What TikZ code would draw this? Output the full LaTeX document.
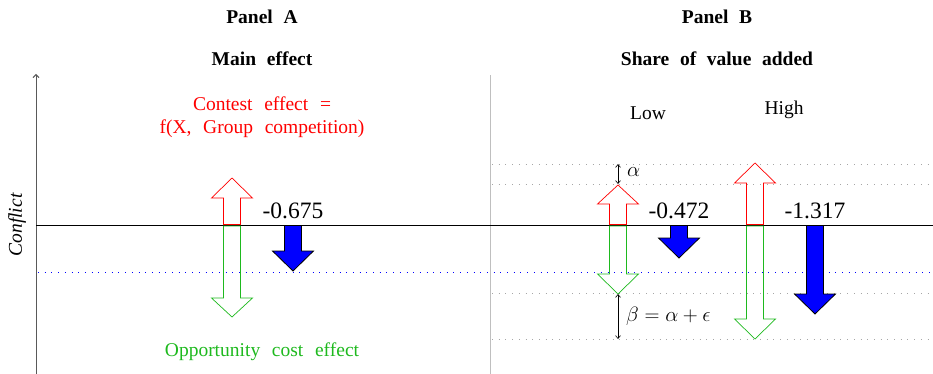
\documentclass[tikz,border=0pt]{standalone}
\usepackage{fontspec}
\setmainfont{Liberation Serif}
\usetikzlibrary{arrows.meta}
\definecolor{gr}{RGB}{30,185,30}
\definecolor{bl}{RGB}{0,0,255}
\newcommand{\wsp}{\spaceskip=0.6em plus 0.1em\relax}
\newcommand{\wspb}{\spaceskip=0.55em plus 0.1em\relax}
\tikzset{
  txt/.style={font=\fontsize{19.5}{23}\selectfont, inner sep=0pt, align=center},
  ttl/.style={font=\fontsize{19.5}{23}\selectfont\bfseries, inner sep=0pt},
  num/.style={font=\fontsize{23.5}{26}\selectfont, inner sep=0pt},
  guide/.style={gray!70, line width=0.7pt, dash pattern=on 0.9pt off 5.8pt},
  blueguide/.style={bl, line width=0.7pt, dash pattern=on 0.9pt off 5.8pt},
  uparr/.style={red, line width=0.7pt},
  dnarr/.style={gr, line width=0.7pt},
  effarr/.style={fill=bl, draw=black, line width=0.8pt, line join=miter},
  dim/.style={{Straight Barb[length=3pt,width=5pt]}-{Straight Barb[length=3pt,width=5pt]}, line width=0.6pt}
}
% block arrow: style, cx, base y, head base y, tip y
\newcommand{\UpArr}[5][]{\draw[#1] ({#2-8.5},#3) -- ({#2-8.5},#4) -- ({#2-20.5},#4) -- (#2,#5) -- ({#2+20.5},#4) -- ({#2+8.5},#4) -- ({#2+8.5},#3) -- cycle;}
\begin{document}
\begin{tikzpicture}[x=1pt,y=-1pt]
\useasboundingbox (0,0) rectangle (933,374);
% titles
\node[ttl] (pa) at (262,17) {\wspb Panel A};
\node[ttl] (ma) at (262,59) {\wspb Main effect};
\node[ttl] (pb) at (717,17) {\wspb Panel B};
\node[ttl] (sb) at (717,59) {\wspb Share of value added};
% axis
\coordinate (axb) at (36,374);
\coordinate (axt) at (36,74);
\draw[black!65, line width=0.9pt, -{Straight Barb[length=3pt,width=6pt]}] (axb) -- (axt);
\node[inner sep=0pt, rotate=90, font=\fontsize{19.5}{23}\selectfont\itshape] (cf) at (17,225) {Conflict};
% separator
\coordinate (sepb) at (490,374);
\coordinate (sept) at (490,75);
\draw[black!25, line width=0.8pt] (sepb) -- (sept);
% guide lines
\draw[guide] (492,164) -- (933,164);
\draw[guide] (492,184) -- (933,184);
\draw[guide] (492,293) -- (933,293);
\draw[guide] (492,339) -- (933,339);
\draw[blueguide] (38,272) -- (933,272);
% zero line
\coordinate (z0) at (36,225);
\coordinate (z1) at (933,225);
\draw[black, line width=0.8pt] (z0) -- (z1);
% Panel A texts
\node[txt, text=red] (ce) at (262,117) {\wsp Contest effect =\\\wsp f(X, Group competition)};
\node[txt, text=gr] (oc) at (262,352) {\wsp Opportunity cost effect};
% Panel A arrows
\UpArr[uparr]{232}{224.5}{198}{178}
\UpArr[dnarr]{232}{226}{298}{317}
\UpArr[effarr]{293}{225.5}{251}{271}
\node[num] (na) at (293,211) {-0.675};
% Panel B labels
\node[txt] (lo) at (648,113) {Low};
\node[txt] (hi) at (784,110) {High};
% Low
\UpArr[uparr]{618}{224.5}{204}{185}
\UpArr[dnarr]{618}{226}{274}{294}
\UpArr[effarr]{679}{225.5}{238}{258}
\node[num] (nl) at (679,211) {-0.472};
% High
\UpArr[uparr]{755}{224.5}{183}{163}
\UpArr[dnarr]{755}{226}{319}{339}
\UpArr[effarr]{815}{225.5}{294}{314}
\node[num] (nh) at (815,211) {-1.317};
% alpha and beta
\coordinate (a0) at (618,164);
\coordinate (a1) at (618,184);
\draw[dim] (a0) -- (a1);
\node[font=\fontsize{19.5}{23}\selectfont, anchor=west, inner sep=0pt] (al) at (627,172) {$\alpha$};
\coordinate (b0) at (618,294);
\coordinate (b1) at (618,339);
\draw[dim] (b0) -- (b1);
\node[font=\fontsize{19.5}{23}\selectfont, anchor=west, inner sep=0pt] (be) at (626,316) {$\beta = \alpha + \epsilon$};
\end{tikzpicture}
\end{document}
